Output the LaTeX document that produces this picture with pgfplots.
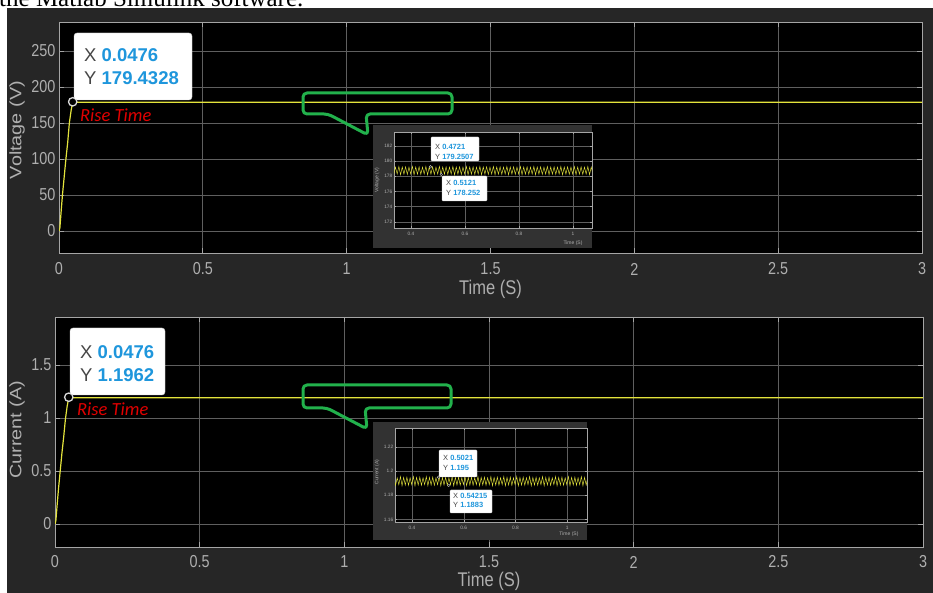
\documentclass[border=0pt]{standalone}
\usepackage{fontspec}
\setmainfont{Liberation Sans}
\newfontfamily\calib{Carlito}
\newfontfamily\capserif{Liberation Serif}
\usepackage{graphicx}
\usepackage{pgfplots}
\pgfplotsset{compat=1.18}
\usepackage{pgfplotstable}
\definecolor{figbg}{RGB}{38,38,38}
\definecolor{panelbg}{RGB}{50,50,50}
\definecolor{framec}{RGB}{165,165,165}
\definecolor{gridc}{RGB}{95,95,95}
\definecolor{ticklab}{RGB}{175,175,175}
\definecolor{sig}{RGB}{228,228,60}
\definecolor{tipblue}{RGB}{30,150,220}
\definecolor{tipgray}{RGB}{70,70,70}
\definecolor{callout}{RGB}{34,177,76}
\definecolor{risered}{RGB}{225,0,0}
\newcommand{\vs}[1]{\scalebox{1}[1.2]{#1}}

\pgfplotstableread[row sep=\\]{
t v i\\
0.33 179.25 1.1950\\ 0.33625 178.25 1.1883\\ 0.3425 179.20 1.1945\\ 0.34875 178.30 1.1888\\ 0.355 179.30 1.1955\\ 0.36125 178.20 1.1879\\ 0.3675 179.22 1.1948\\ 0.37375 178.28 1.1885\\
0.38 179.25 1.1950\\ 0.38625 178.25 1.1883\\ 0.3925 179.20 1.1945\\ 0.39875 178.30 1.1888\\ 0.405 179.30 1.1955\\ 0.41125 178.20 1.1879\\ 0.4175 179.22 1.1948\\ 0.42375 178.28 1.1885\\
0.43 179.25 1.1950\\ 0.43625 178.25 1.1883\\ 0.4425 179.20 1.1945\\ 0.44875 178.30 1.1888\\ 0.455 179.30 1.1955\\ 0.46125 178.20 1.1879\\ 0.4675 179.22 1.1948\\ 0.47375 178.28 1.1885\\
0.48 179.25 1.1950\\ 0.48625 178.25 1.1883\\ 0.4925 179.20 1.1945\\ 0.49875 178.30 1.1888\\ 0.505 179.30 1.1955\\ 0.51125 178.20 1.1879\\ 0.5175 179.22 1.1948\\ 0.52375 178.28 1.1885\\
0.53 179.25 1.1950\\ 0.53625 178.25 1.1883\\ 0.5425 179.20 1.1945\\ 0.54875 178.30 1.1888\\ 0.555 179.30 1.1955\\ 0.56125 178.20 1.1879\\ 0.5675 179.22 1.1948\\ 0.57375 178.28 1.1885\\
0.58 179.25 1.1950\\ 0.58625 178.25 1.1883\\ 0.5925 179.20 1.1945\\ 0.59875 178.30 1.1888\\ 0.605 179.30 1.1955\\ 0.61125 178.20 1.1879\\ 0.6175 179.22 1.1948\\ 0.62375 178.28 1.1885\\
0.63 179.25 1.1950\\ 0.63625 178.25 1.1883\\ 0.6425 179.20 1.1945\\ 0.64875 178.30 1.1888\\ 0.655 179.30 1.1955\\ 0.66125 178.20 1.1879\\ 0.6675 179.22 1.1948\\ 0.67375 178.28 1.1885\\
0.68 179.25 1.1950\\ 0.68625 178.25 1.1883\\ 0.6925 179.20 1.1945\\ 0.69875 178.30 1.1888\\ 0.705 179.30 1.1955\\ 0.71125 178.20 1.1879\\ 0.7175 179.22 1.1948\\ 0.72375 178.28 1.1885\\
0.73 179.25 1.1950\\ 0.73625 178.25 1.1883\\ 0.7425 179.20 1.1945\\ 0.74875 178.30 1.1888\\ 0.755 179.30 1.1955\\ 0.76125 178.20 1.1879\\ 0.7675 179.22 1.1948\\ 0.77375 178.28 1.1885\\
0.78 179.25 1.1950\\ 0.78625 178.25 1.1883\\ 0.7925 179.20 1.1945\\ 0.79875 178.30 1.1888\\ 0.805 179.30 1.1955\\ 0.81125 178.20 1.1879\\ 0.8175 179.22 1.1948\\ 0.82375 178.28 1.1885\\
0.83 179.25 1.1950\\ 0.83625 178.25 1.1883\\ 0.8425 179.20 1.1945\\ 0.84875 178.30 1.1888\\ 0.855 179.30 1.1955\\ 0.86125 178.20 1.1879\\ 0.8675 179.22 1.1948\\ 0.87375 178.28 1.1885\\
0.88 179.25 1.1950\\ 0.88625 178.25 1.1883\\ 0.8925 179.20 1.1945\\ 0.89875 178.30 1.1888\\ 0.905 179.30 1.1955\\ 0.91125 178.20 1.1879\\ 0.9175 179.22 1.1948\\ 0.92375 178.28 1.1885\\
0.93 179.25 1.1950\\ 0.93625 178.25 1.1883\\ 0.9425 179.20 1.1945\\ 0.94875 178.30 1.1888\\ 0.955 179.30 1.1955\\ 0.96125 178.20 1.1879\\ 0.9675 179.22 1.1948\\ 0.97375 178.28 1.1885\\
0.98 179.25 1.1950\\ 0.98625 178.25 1.1883\\ 0.9925 179.20 1.1945\\ 0.99875 178.30 1.1888\\ 1.005 179.30 1.1955\\ 1.01125 178.20 1.1879\\ 1.0175 179.22 1.1948\\ 1.02375 178.28 1.1885\\
1.03 179.25 1.1950\\ 1.03625 178.25 1.1883\\ 1.0425 179.20 1.1945\\ 1.04875 178.30 1.1888\\ 1.055 179.30 1.1955\\ 1.06125 178.20 1.1879\\ 1.0675 179.22 1.1948\\ 1.07375 178.28 1.1885\\
1.08 179.25 1.1950\\
}\ripple

\pgfplotsset{
  matlab/.style={
    scale only axis, anchor=south west,
    axis background/.style={fill=black},
    axis line style={framec, line width=0.8pt},
    grid=major, grid style={gridc, line width=0.7pt},
    tick align=inside, major tick length=5pt,
    tick style={framec, line width=0.7pt},
    /pgf/number format/assume math mode=true,
    tick label style={ticklab, font=\fontsize{14.4}{16}\selectfont},
    xticklabel={\vs{\pgfmathprintnumber{\tick}}},
    yticklabel={\vs{\pgfmathprintnumber{\tick}}},
    xticklabel style={anchor=center},
    label style={ticklab, font=\fontsize{16.5}{18}\selectfont},
    xlabel style={anchor=center},
    ylabel style={anchor=center},
    xmin=0, xmax=3, xtick={0,0.5,1,1.5,2,2.5,3},
  },
  inset/.style={
    scale only axis, anchor=south west,
    axis background/.style={fill=black},
    axis line style={framec, line width=0.4pt},
    grid=major, grid style={gridc, line width=0.4pt},
    tick align=inside, major tick length=2pt,
    tick style={framec, line width=0.3pt},
    /pgf/number format/assume math mode=true,
    tick label style={ticklab, font=\fontsize{4.8}{5}\selectfont},
    xticklabel style={anchor=center, yshift=-6pt},
    yticklabel style={inner sep=1.5pt},
    label style={ticklab, font=\fontsize{5}{6}\selectfont},
    xlabel style={anchor=center},
    ylabel style={anchor=center},
    xtick={0.4,0.6,0.8,1},
  },
}

\begin{document}
\begin{tikzpicture}
\useasboundingbox (0,0) rectangle (933pt,593pt);
\begin{scope}[x=1pt,y=1pt]
\fill[white] (0,0) rectangle (933,593);
\fill[figbg] (7,0) rectangle (933,585);
\begin{scope}
\clip (0,585) rectangle (933,593);
\node[anchor=base west, inner sep=0, font=\capserif\fontsize{25}{28}\selectfont] at (-1,586.3) {the Matlab Simulink software.};
\end{scope}
\end{scope}

% ---------- top: voltage ----------
\begin{axis}[matlab, at={(59pt,340pt)}, width=863pt, height=231pt,
  ymin=-30.6, ymax=290.3, ytick={0,50,100,150,200,250},
  xticklabel style={yshift=-16pt},
  xlabel={\vs{Time (S)}}, xlabel style={at={(axis description cs:0.5,0)}, yshift=-36pt},
  ylabel={\scalebox{1.2}[1]{Voltage (V)}}, ylabel style={at={([xshift=-42pt]axis description cs:0,0.532)}}]
\addplot[sig, line width=1.2pt] coordinates {
 (0,0) (0.003,4) (0.008,30) (0.012,50) (0.018,75) (0.024,100) (0.030,122) (0.036,150) (0.042,167) (0.0476,179.4328) (0.06,178.8) (0.5,178.8) (1,178.75) (1.5,178.8) (2,178.75) (2.5,178.8) (3,178.75)};
\addplot[only marks, mark=*, mark size=4.2pt, mark options={fill=black, draw=white!85!black, line width=1.3pt}] coordinates {(0.0476,179.4328)};
\end{axis}

% ---------- bottom: current ----------
\begin{axis}[matlab, at={(55pt,46pt)}, width=868pt, height=230pt,
  ymin=-0.217, ymax=1.953, ytick={0,0.5,1,1.5},
  xticklabel style={yshift=-15pt},
  xlabel={\vs{Time (S)}}, xlabel style={at={(axis description cs:0.5,0)}, yshift=-34pt},
  ylabel={\scalebox{1.2}[1]{Current (A)}}, ylabel style={at={([xshift=-38pt]axis description cs:0,0.509)}}]
\addplot[sig, line width=1.2pt] coordinates {
 (0,0) (0.003,0.03) (0.008,0.2) (0.012,0.33) (0.018,0.5) (0.024,0.67) (0.030,0.82) (0.036,0.99) (0.042,1.11) (0.0476,1.1962) (0.06,1.1915) (0.5,1.1915) (1,1.191) (1.5,1.1915) (2,1.191) (2.5,1.1915) (3,1.191)};
\addplot[only marks, mark=*, mark size=4.2pt, mark options={fill=black, draw=white!85!black, line width=1.3pt}] coordinates {(0.0476,1.1962)};
\end{axis}

\begin{scope}[x=1pt,y=1pt]
% inset panels
\fill[panelbg] (373,345) rectangle (592,468);
\fill[panelbg] (373,53) rectangle (587,171);
\end{scope}

% ---------- inset: voltage ----------
\begin{axis}[inset, at={(394pt,365pt)}, width=198pt, height=96pt,
  xmin=0.337, xmax=1.0704, ymin=171.17, ymax=183.85, ytick={172,174,176,178,180,182},
  xlabel={Time (S)}, xlabel style={at={(axis description cs:0.904,0)}, yshift=-15pt},
  ylabel={Voltage (V)}, ylabel style={at={([xshift=-17pt]axis description cs:0,0.5)}}]
\addplot[sig, line width=0.45pt] table[x=t, y=v] {\ripple};
\addplot[only marks, mark=*, mark size=1.3pt, mark options={fill=black, draw=white!80!black, line width=0.4pt}] coordinates {(0.4721,179.2507) (0.5121,178.252)};
\end{axis}

% ---------- inset: current ----------
\begin{axis}[inset, at={(395pt,71pt)}, width=192pt, height=94pt,
  xmin=0.334, xmax=1.077, ymin=1.158, ymax=1.2356, ytick={1.16,1.18,1.2,1.22},
  xlabel={Time (S)}, xlabel style={at={(axis description cs:0.906,0)}, yshift=-12pt},
  ylabel={Current (A)}, ylabel style={at={([xshift=-18pt]axis description cs:0,0.53)}}]
\addplot[sig, line width=0.45pt] table[x=t, y=i] {\ripple};
\addplot[only marks, mark=*, mark size=1.3pt, mark options={fill=black, draw=white!80!black, line width=0.4pt}] coordinates {(0.5021,1.195) (0.54215,1.1883)};
\end{axis}

\begin{scope}[x=1pt,y=1pt]
% green callouts
\draw[callout, line width=3pt, rounded corners=4pt, line join=round]
  (328,479) -- (303,479) -- (303,500) -- (452,500) -- (452,479) -- (366,479) -- (368,458) -- cycle;
\draw[callout, line width=3pt, rounded corners=4pt, line join=round]
  (327,185) -- (303,185) -- (303,208) -- (451,208) -- (451,185) -- (365,185) -- (367,164) -- cycle;

% main datatips
\draw[fill=white, draw=white!80!black, rounded corners=3pt] (74,493) rectangle (192,560);
\node[anchor=west, inner sep=0, font=\fontsize{18.5}{20}\selectfont] at (84,538) {\textcolor{tipgray}{X} \textcolor{tipblue}{\bfseries 0.0476}};
\node[anchor=west, inner sep=0, font=\fontsize{18.5}{20}\selectfont] at (84,515) {\textcolor{tipgray}{Y} \textcolor{tipblue}{\bfseries 179.4328}};

\draw[fill=white, draw=white!80!black, rounded corners=3pt] (70,198) rectangle (165,265);
\node[anchor=west, inner sep=0, font=\fontsize{18.5}{20}\selectfont] at (80,241) {\textcolor{tipgray}{X} \textcolor{tipblue}{\bfseries 0.0476}};
\node[anchor=west, inner sep=0, font=\fontsize{18.5}{20}\selectfont] at (80,218) {\textcolor{tipgray}{Y} \textcolor{tipblue}{\bfseries 1.1962}};

% rise time
\node[anchor=west, inner sep=0, text=risered, font=\calib\itshape\fontsize{18.5}{20}\selectfont] at (80,478) {Rise Time};
\node[anchor=west, inner sep=0, text=risered, font=\calib\itshape\fontsize{18.5}{20}\selectfont] at (77,184) {Rise Time};

% inset datatips
\draw[fill=white, draw=white!80!black, rounded corners=1pt] (431,432) rectangle (479,456);
\node[anchor=west, inner sep=0, font=\fontsize{7.5}{8}\selectfont] at (435,446) {\textcolor{tipgray}{X} \textcolor{tipblue}{\bfseries 0.4721}};
\node[anchor=west, inner sep=0, font=\fontsize{7.5}{8}\selectfont] at (435,436) {\textcolor{tipgray}{Y} \textcolor{tipblue}{\bfseries 179.2507}};
\draw[fill=white, draw=white!80!black, rounded corners=1pt] (442,392) rectangle (487,417);
\node[anchor=west, inner sep=0, font=\fontsize{7.5}{8}\selectfont] at (446,410) {\textcolor{tipgray}{X} \textcolor{tipblue}{\bfseries 0.5121}};
\node[anchor=west, inner sep=0, font=\fontsize{7.5}{8}\selectfont] at (446,400) {\textcolor{tipgray}{Y} \textcolor{tipblue}{\bfseries 178.252}};

\draw[fill=white, draw=white!80!black, rounded corners=1pt] (439,116) rectangle (477,143);
\node[anchor=west, inner sep=0, font=\fontsize{7.5}{8}\selectfont] at (443,135) {\textcolor{tipgray}{X} \textcolor{tipblue}{\bfseries 0.5021}};
\node[anchor=west, inner sep=0, font=\fontsize{7.5}{8}\selectfont] at (443,125) {\textcolor{tipgray}{Y} \textcolor{tipblue}{\bfseries 1.195}};
\draw[fill=white, draw=white!80!black, rounded corners=1pt] (450,80) rectangle (492,103);
\node[anchor=west, inner sep=0, font=\fontsize{7.5}{8}\selectfont] at (453,97) {\textcolor{tipgray}{X} \textcolor{tipblue}{\bfseries 0.54215}};
\node[anchor=west, inner sep=0, font=\fontsize{7.5}{8}\selectfont] at (453,88) {\textcolor{tipgray}{Y} \textcolor{tipblue}{\bfseries 1.1883}};
\end{scope}
\end{tikzpicture}
\end{document}
